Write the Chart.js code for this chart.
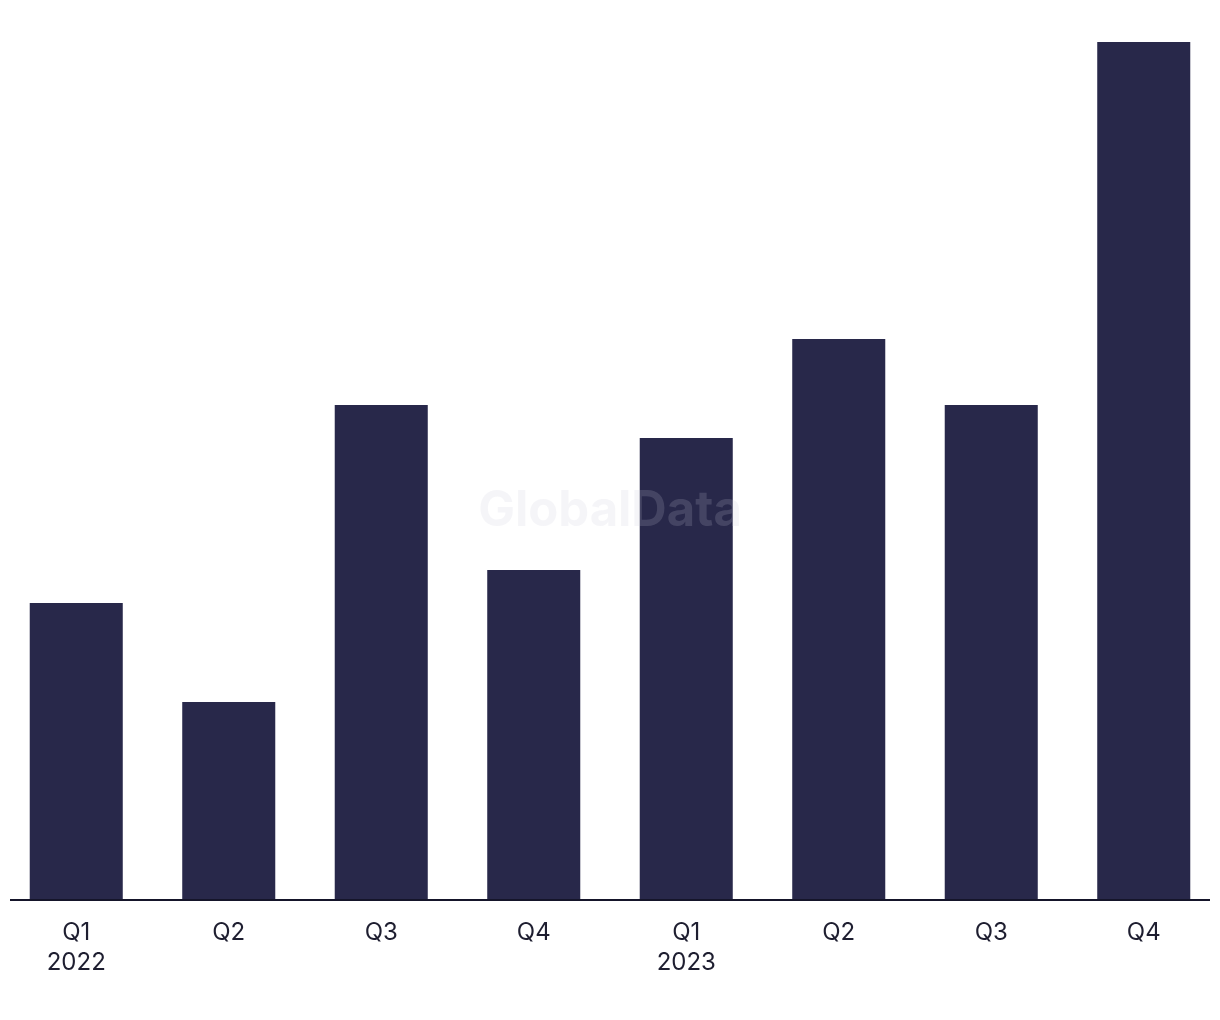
<!DOCTYPE html>
<html>
<head>
<meta charset="utf-8">
<script src="https://cdn.jsdelivr.net/npm/chart.js@4"></script>
<style>
  html, body { margin: 0; padding: 0; background: #fff; }
  #wrap { width: 1220px; height: 1020px; position: relative; }
</style>
</head>
<body>
<div id="wrap"><canvas id="chart"></canvas></div>
<script>
const quarterLabels = [['Q1', '2022'], 'Q2', 'Q3', 'Q4', ['Q1', '2023'], 'Q2', 'Q3', 'Q4'];
const dealCounts = [9, 6, 15, 10, 14, 17, 15, 26];

const BAR_COLOR = '#28284a';
const FONT = 'Inter, "Liberation Sans", sans-serif';

// axis line + faint watermark on top of the bars
const baselinePlugin = {
  id: 'baselinePlugin',
  afterDatasetsDraw(chart) {
    const { ctx, chartArea } = chart;
    ctx.save();
    ctx.strokeStyle = '#15152a';
    ctx.lineWidth = 2;
    ctx.beginPath();
    ctx.moveTo(10, chartArea.bottom);
    ctx.lineTo(chart.width - 10, chartArea.bottom);
    ctx.stroke();

    ctx.font = 'bold 49px ' + FONT;
    ctx.fillStyle = 'rgba(200,200,215,0.18)';
    ctx.textAlign = 'center';
    ctx.textBaseline = 'middle';
    ctx.fillText('GlobalData', 610, 511);
    ctx.restore();
  }
};

const ctx = document.getElementById('chart').getContext('2d');

new Chart(ctx, {
  type: 'bar',
  data: {
    labels: quarterLabels,
    datasets: [
      {
        label: 'Deals',
        data: dealCounts,
        backgroundColor: BAR_COLOR,
        categoryPercentage: 1,
        barPercentage: 0.61
      }
    ]
  },
  options: {
    animation: false,
    responsive: true,
    maintainAspectRatio: false,
    layout: { padding: { top: 42, left: 0, right: 0, bottom: 24 } },
    scales: {
      x: {
        grid: { display: false, drawTicks: false },
        border: { display: false },
        ticks: {
          color: '#1e1e30',
          padding: 18,
          font: { family: FONT, size: 24, lineHeight: 1.25 }
        }
      },
      y: {
        display: false,
        min: 0,
        max: 26
      }
    },
    plugins: {
      legend: { display: false },
      tooltip: { enabled: false }
    }
  },
  plugins: [baselinePlugin]
});
</script>
</body>
</html>
